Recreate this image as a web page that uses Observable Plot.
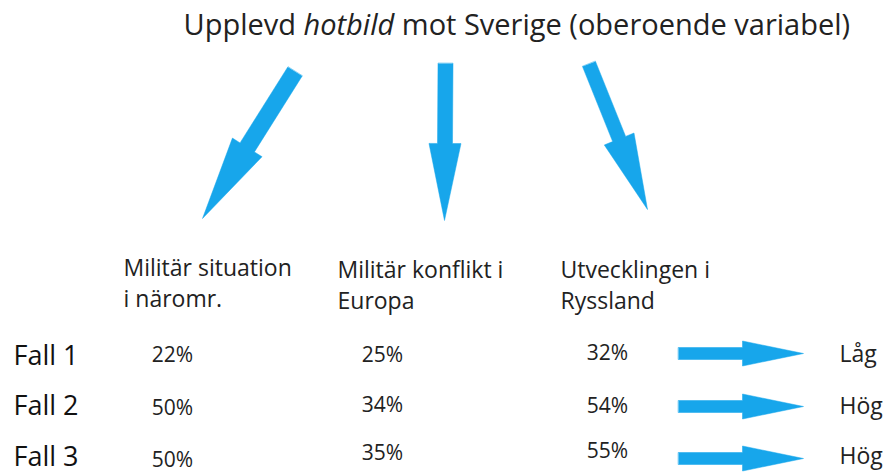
<!DOCTYPE html>
<html><head><meta charset="utf-8">
<script src="https://cdn.jsdelivr.net/npm/d3@7"></script>
<script src="https://cdn.jsdelivr.net/npm/@observablehq/plot@0.6"></script>
<style>body{margin:0;background:#fff}</style>
</head><body><div id="chart"></div>
<script>
// ---- content ----
const titleParts = ["Upplevd ", "hotbild", " mot Sverige (oberoende variabel)"];
const factors = ["Militär situation\ni näromr.", "Militär konflikt i\nEuropa", "Utvecklingen i\nRyssland"];
const cases = ["Fall 1", "Fall 2", "Fall 3"];
const situation = [22, 50, 50];
const konflikt = [25, 34, 35];
const ryssland = [32, 54, 55];
const outcome = ["Låg", "Hög", "Hög"];

// ---- layout ----
const W = 891, H = 474;
const blue = "#17a6eb", ink = "#222";
const factorX = [123, 337, 560];
const factorTop = [253, 255, 255];
const valueX = [172, 382, 607];
const valueTop = [[347, 400, 452], [347, 397, 445], [345, 398, 443]];
const caseTop = [345, 395, 446];
const outTop = [345, 397, 447];
const diagArrows = [
  {x1: 294.5, y1: 71, x2: 202, y2: 218, w: 17, hw: 35, hl: 84},
  {x1: 445, y1: 63, x2: 444, y2: 220, w: 15, hw: 32, hl: 77},
  {x1: 588.5, y1: 63.5, x2: 647, y2: 209, w: 14, hw: 32, hl: 76}
];
const rowArrowY = [353, 406, 458];
const rowArrow = {x1: 678, x2: 803, w: 12, hw: 25, hl: 61};

function arrowPoly(a, id) {
  const dx = a.x2 - a.x1, dy = a.y2 - a.y1, L = Math.hypot(dx, dy);
  const ux = dx / L, uy = dy / L, nx = -uy, ny = ux;
  const bx = a.x2 - ux * a.hl, by = a.y2 - uy * a.hl;
  const pts = [
    [a.x1 + nx * a.w / 2, a.y1 + ny * a.w / 2],
    [bx + nx * a.w / 2, by + ny * a.w / 2],
    [bx + nx * a.hw / 2, by + ny * a.hw / 2],
    [a.x2, a.y2],
    [bx - nx * a.hw / 2, by - ny * a.hw / 2],
    [bx - nx * a.w / 2, by - ny * a.w / 2],
    [a.x1 - nx * a.w / 2, a.y1 - ny * a.w / 2]
  ];
  return pts.map(([x, y]) => ({id, x, y}));
}
const arrowPts = [
  ...diagArrows.flatMap((a, i) => arrowPoly(a, "d" + i)),
  ...rowArrowY.flatMap((y, i) => arrowPoly({...rowArrow, y1: y, y2: y}, "r" + i))
];

const titleText = titleParts.join("");
const headerData = factors.map((t, i) => ({t, x: factorX[i], y: factorTop[i]}));
const values = [situation, konflikt, ryssland];
const valueData = values.flatMap((col, c) => col.map((v, r) => ({t: v + "%", x: valueX[c], y: valueTop[c][r]})));
const caseData = cases.map((t, i) => ({t, x: 13, y: caseTop[i]}));
const outData = outcome.map((t, i) => ({t, x: 839, y: outTop[i]}));

const chart = Plot.plot({
  width: W, height: H, margin: 0,
  x: {domain: [0, W], range: [0, W], axis: null},
  y: {domain: [0, H], range: [0, H], axis: null},
  style: {fontFamily: "'Open Sans', sans-serif", background: "white", color: ink},
  marks: [
    Plot.line(arrowPts, {x: "x", y: "y", z: "id", curve: "linear-closed", fill: blue, stroke: blue, strokeWidth: 0.5}),
    Plot.text([titleText], {x: 183, y: 14, text: d => d, fontSize: 29, lineAnchor: "top", textAnchor: "start", fill: ink}),
    Plot.text(headerData, {x: "x", y: "y", text: "t", fontSize: 23, lineAnchor: "top", textAnchor: "start", lineHeight: 1.35, fill: ink}),
    Plot.text(valueData, {x: "x", y: "y", text: "t", fontSize: 21, lineAnchor: "top", fill: ink}),
    Plot.text(caseData, {x: "x", y: "y", text: "t", fontSize: 27, lineAnchor: "top", textAnchor: "start", fill: "#111"}),
    Plot.text(outData, {x: "x", y: "y", text: "t", fontSize: 23, lineAnchor: "top", textAnchor: "start", fill: ink})
  ]
});
document.getElementById("chart").append(chart);

// italic "hotbild" in the title
d3.select(chart).selectAll("text").filter(function () { return this.textContent === titleText; }).each(function () {
  const tnode = d3.select(this);
  tnode.text(null).style("white-space", "pre");
  titleParts.forEach((p, i) => {
    const ts = tnode.append("tspan").text(p);
    if (i === 1) ts.attr("font-style", "italic");
  });
});
</script></body></html>
